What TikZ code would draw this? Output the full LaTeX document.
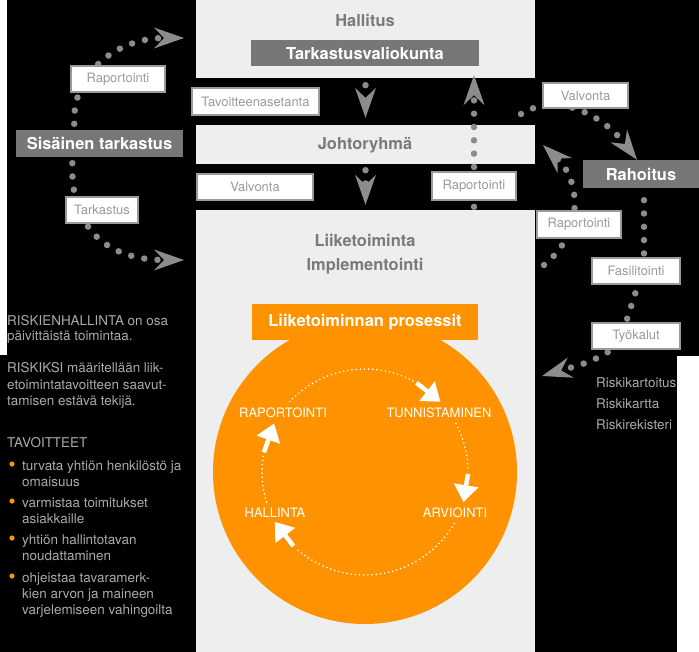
\documentclass[tikz,border=0pt]{standalone}
\usepackage{fontspec}
\setmainfont{TeX Gyre Heros}
\usetikzlibrary{arrows.meta,positioning,calc}
\definecolor{bandgray}{HTML}{EEEEEE}
\definecolor{boxgray}{HTML}{777777}
\definecolor{hdrgray}{HTML}{7A7A7A}
\definecolor{dotgray}{HTML}{8C8C8C}
\definecolor{lblgray}{HTML}{9A9A9A}
\definecolor{txtgray}{HTML}{ABABAB}
\definecolor{procorange}{RGB}{255,146,0}
\pgfdeclarelayer{bg}
\pgfsetlayers{bg,main}
\tikzset{
  band/.style={fill=bandgray, inner sep=0pt, minimum width=339bp},
  header/.style={font=\fontsize{16.5}{18}\selectfont\bfseries, text=hdrgray, inner sep=0pt},
  darkbox/.style={fill=boxgray, text=white, font=\fontsize{16.5}{18}\selectfont\bfseries, inner sep=0pt},
  lbl/.style={draw=lblgray, line width=1.5bp, fill=white, text=lblgray, font=\fontsize{13}{15}\selectfont, inner sep=0pt, minimum height=26bp},
  dotline/.style={draw=dotgray, line width=6.5bp, line cap=round, dash pattern=on 0bp off 13.3bp},
  gtip/.style={-{Stealth[length=30bp,width=21bp,inset=10bp,line width=0pt]}},
  cyctext/.style={text=white, font=\fontsize{13}{15}\selectfont, inner sep=0pt},
  cycdots/.style={white, line width=1.8bp, line cap=round, dash pattern=on 0bp off 4.2bp},
  cycarrow/.style={white, line width=4.5bp, -{Triangle[length=17bp,width=25bp,line width=0pt]}},
  sidetext/.style={text=txtgray, font=\fontsize{13.5}{16}\selectfont, anchor=base west, inner sep=0pt},
}
\begin{document}
\begin{tikzpicture}[x=1bp, y=-1bp]
    \useasboundingbox (0,0) rectangle (699,652);
    % background and bands
    \begin{pgfonlayer}{bg}
    \fill[black] (0,0) rectangle (699,652);
    \fill[white] (0,0) rectangle (7,355);
    \fill[white] (677,356) rectangle (699,652);
    \node[band, minimum height=78bp] (bandHall) at (365.5,39) {};
    \node[band, minimum height=39bp] (bandJoht) at (365.5,144.5) {};
    \node[band, minimum height=442bp] (bandLiike) at (365.5,431) {};
    \coordinate (cyc) at (365,472);
    \fill[procorange] (cyc) circle[radius=152];
    \end{pgfonlayer}

    % organisation
    \node[header] (hall) at (365,20) {Hallitus};
    \node[darkbox, minimum width=228bp, minimum height=26bp] (tark) at (365,53) {Tarkastusvaliokunta};
    \node[header] (joht) at (365,145) {Johtoryhmä};
    \node[header, align=center, font=\fontsize{16.5}{24}\selectfont\bfseries] (liike) at (365,254) {Liiketoiminta\\Implementointi};
    \node[darkbox, fill=procorange, minimum width=226bp, minimum height=36bp] (pros) at (365,322) {Liiketoiminnan prosessit};
    \node[darkbox, minimum width=167bp, minimum height=27bp] (sis) at (99.5,143.5) {Sisäinen tarkastus};
    \node[darkbox, minimum width=116bp, minimum height=28bp] (rah) at (641,174) {Rahoitus};

    % labels
    \node[lbl, minimum width=94bp] (lblRapL) at (118,79) {Raportointi};
    \node[lbl, minimum width=72bp] (lblTark) at (102,210) {Tarkastus};
    \node[lbl, minimum width=127bp, minimum height=27bp] (lblTavo) at (255.5,101.5) {Tavoitteenasetanta};
    \node[lbl, minimum width=116bp] (lblValvL) at (255,187) {Valvonta};
    \node[lbl, minimum width=84bp, minimum height=28bp] (lblRapM) at (474,186) {Raportointi};
    \node[lbl, minimum width=85bp, minimum height=25bp] (lblValvR) at (585.5,95.5) {Valvonta};
    \node[lbl, minimum width=84bp, minimum height=27bp] (lblRapR) at (579,224.5) {Raportointi};
    \node[lbl, minimum width=88bp] (lblFasi) at (636,271) {Fasilitointi};
    \node[lbl, minimum width=88bp] (lblTyo) at (636,336) {Työkalut};

    \coordinate (tipSisA) at (184,38);
    \coordinate (tipSisB) at (184,260);
    \coordinate (valS) at (521,114);
    \coordinate (rapRs) at (544,265);
    \coordinate (tipRapR) at (543,145);
    \coordinate (tipTyo) at (542,376);

    % dotted connectors
    \begin{pgfonlayer}{bg}
    \draw[dotline, gtip, shorten <=7bp, shorten >=7bp] (bandHall.south) -- (bandJoht.north);
    \draw[dotline, gtip, shorten <=6bp, shorten >=5bp] (bandJoht.south) -- (bandLiike.north);
    \draw[dotline, gtip, shorten <=3bp, shorten >=9bp] ([xshift=108.5bp]bandLiike.north) -- ([xshift=109bp]tark.south);
    \draw[dotline, gtip, shorten <=6bp] ([xshift=-25bp]sis.north) .. controls (72,70) and (120,38) .. (tipSisA);
    \draw[dotline, gtip, shorten <=6bp] ([xshift=-27bp]sis.south) .. controls (70,240) and (120,260) .. (tipSisB);
    \draw[dotline, gtip] (valS) .. controls (560,90) and (605,118) .. ([xshift=-4bp]rah.north);
    \draw[dotline, shorten <=12bp] ([xshift=3bp]rah.south) -- ([xshift=8bp]lblFasi.north);
    \draw[dotline, shorten <=9bp] ([xshift=2bp]lblFasi.south) -- ([xshift=-10bp]lblTyo.north);
    \draw[dotline, gtip, shorten <=5bp] ([xshift=-24bp]lblTyo.south) .. controls (590,362) .. (tipTyo);
    \draw[dotline, gtip] (rapRs) .. controls (585,232) and (580,180) .. (tipRapR);
    \end{pgfonlayer}

    % process cycle
    \node[cyctext] (cycRap) at (283,413) {RAPORTOINTI};
    \node[cyctext] (cycTun) at (439,413) {TUNNISTAMINEN};
    \node[cyctext] (cycHal) at (275,513) {HALLINTA};
    \node[cyctext] (cycArv) at (455,513) {ARVIOINTI};
    \draw[cycdots] ($(cyc)+(-137:103)$) arc[start angle=-137, end angle=-62, radius=103];
    \draw[cycarrow] ($(cyc)+(-60:103)$) -- ($(cyc)+(-43:103)$);
    \draw[cycdots] ($(cyc)+(-28:103)$) arc[start angle=-28, end angle=0, radius=103];
    \draw[cycarrow] ($(cyc)+(1:103)$) -- ($(cyc)+(17:103)$);
    \draw[cycdots] ($(cyc)+(30:103)$) arc[start angle=30, end angle=132, radius=103];
    \draw[cycarrow] ($(cyc)+(134:103)$) -- ($(cyc)+(151:103)$);
    \draw[cycdots] ($(cyc)+(163:103)$) arc[start angle=163, end angle=189, radius=103];
    \draw[cycarrow] ($(cyc)+(191:103)$) -- ($(cyc)+(208:103)$);

    % side texts
    \foreach \ty/\tline in {321/RISKIENHALLINTA on osa, 336/päivittäistä toimintaa., 368/RISKIKSI määritellään liik-, 385/etoimintatavoitteen saavut-, 401/tamisen estävä tekijä., 443/TAVOITTEET}
        \node[sidetext] (side\ty) at (7,\ty+4.5) {\tline};
    \foreach \ty/\tline in {466/turvata yhtiön henkilöstö ja, 482/omaisuus, 503/varmistaa toimitukset, 519/asiakkaille, 540/yhtiön hallintotavan, 556/noudattaminen, 578/ohjeistaa tavaramerk-, 594/kien arvon ja maineen, 610/varjelemiseen vahingoilta}
        \node[sidetext] (goal\ty) at (22,\ty+4.5) {\tline};
    \foreach \by in {466,503,540,578}
        \fill[procorange] (12,\by-2) circle[radius=2.6];
    \foreach \ty/\tline in {383/Riskikartoitus, 404/Riskikartta, 425/Riskirekisteri}
        \node[sidetext] (tool\ty) at (596,\ty+4.5) {\tline};
\end{tikzpicture}
\end{document}
